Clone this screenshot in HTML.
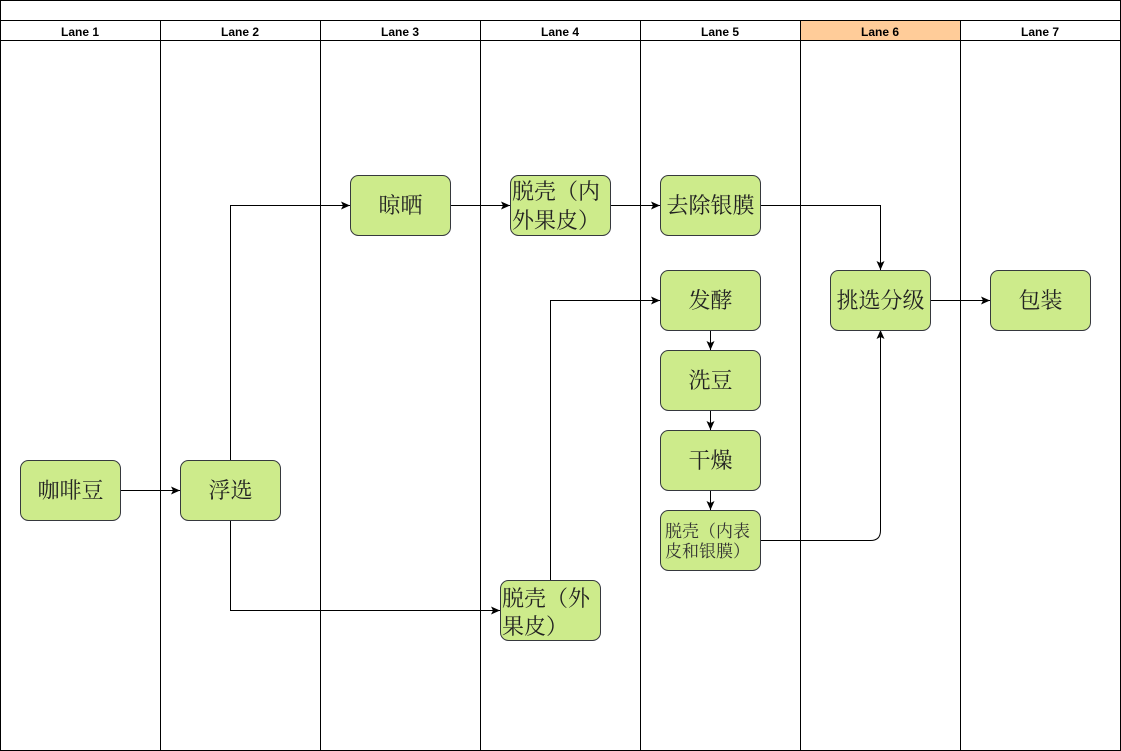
<!DOCTYPE html>
<html><head><meta charset="utf-8"><style>
html,body{margin:0;padding:0;background:#fff;}
svg{display:block;}
text{font-family:"Liberation Sans","Noto Sans CJK SC",sans-serif;}
.c{font-family:"Liberation Serif","Noto Serif CJK SC",serif;}
</style></head><body>
<svg width="1121" height="751" viewBox="0 0 1121 751" xmlns="http://www.w3.org/2000/svg">
<defs><marker id="a" markerWidth="10" markerHeight="10" refX="9" refY="5" orient="auto" markerUnits="userSpaceOnUse"><path d="M0,1 L9,5 L0,9 L2,5 z" fill="#000"/></marker></defs>
<rect x="0.5" y="0.5" width="1120" height="750" fill="#fff" stroke="#000"/>
<rect x="800.5" y="20.5" width="160" height="20" fill="#ffcc99"/>
<line x1="0" y1="20.5" x2="1121" y2="20.5" stroke="#000"/>
<line x1="0" y1="40.5" x2="1121" y2="40.5" stroke="#000"/>
<g stroke="#000">
<line x1="160.5" y1="20" x2="160.5" y2="751"/><line x1="320.5" y1="20" x2="320.5" y2="751"/>
<line x1="480.5" y1="20" x2="480.5" y2="751"/><line x1="640.5" y1="20" x2="640.5" y2="751"/>
<line x1="800.5" y1="20" x2="800.5" y2="751"/><line x1="960.5" y1="20" x2="960.5" y2="751"/>
</g>
<g font-size="12" font-weight="bold" text-anchor="middle">
<text x="80" y="36">Lane 1</text><text x="240" y="36">Lane 2</text><text x="400" y="36">Lane 3</text>
<text x="560" y="36">Lane 4</text><text x="720" y="36">Lane 5</text><text x="880" y="36">Lane 6</text><text x="1040" y="36">Lane 7</text>
</g>
<g fill="none" stroke="#000" marker-end="url(#a)">
<path d="M120.5,490.5 H180"/>
<path d="M230.5,460 V205.5 H350"/>
<path d="M230.5,520 V610.5 H500"/>
<path d="M450,205.5 H510"/>
<path d="M610,205.5 H660"/>
<path d="M760,205.5 H880.5 V270"/>
<path d="M550.5,580 V300.5 H660"/>
<path d="M710.5,330 V350"/>
<path d="M710.5,410 V430"/>
<path d="M710.5,490 V510"/>
<path d="M760,540.5 H870.5 Q880.5,540.5 880.5,530.5 V330"/>
<path d="M930,300.5 H990"/>
</g>
<g fill="#cdeb8b" stroke="#36393d">
<rect x="20.5" y="460.5" width="100" height="60" rx="8"/>
<rect x="180.5" y="460.5" width="100" height="60" rx="8"/>
<rect x="350.5" y="175.5" width="100" height="60" rx="8"/>
<rect x="510.5" y="175.5" width="100" height="60" rx="8"/>
<rect x="660.5" y="175.5" width="100" height="60" rx="8"/>
<rect x="660.5" y="270.5" width="100" height="60" rx="8"/>
<rect x="660.5" y="350.5" width="100" height="60" rx="8"/>
<rect x="660.5" y="430.5" width="100" height="60" rx="8"/>
<rect x="660.5" y="510.5" width="100" height="60" rx="8"/>
<rect x="830.5" y="270.5" width="100" height="60" rx="8"/>
<rect x="990.5" y="270.5" width="100" height="60" rx="8"/>
<rect x="500.5" y="580.5" width="100" height="60" rx="8"/>
</g>
<g class="c" font-size="22" text-anchor="middle" fill="#222">
<text class="c" x="70.5" y="498">咖啡豆</text>
<text class="c" x="230.5" y="498">浮选</text>
<text class="c" x="400.5" y="213">晾晒</text>
<text class="c" x="710.5" y="213">去除银膜</text>
<text class="c" x="710.5" y="308">发酵</text>
<text class="c" x="710.5" y="388">洗豆</text>
<text class="c" x="710.5" y="468">干燥</text>
<text class="c" x="880.5" y="308">挑选分级</text>
<text class="c" x="1040.5" y="308">包装</text>
</g>
<g font-size="22" fill="#222">
<text class="c" x="512" y="199">脱壳（内</text><text class="c" x="512" y="228">外果皮）</text>
<text class="c" x="502" y="606">脱壳（外</text><text class="c" x="502" y="634">果皮）</text>
</g>
<g font-size="17" fill="#333">
<text class="c" x="665" y="537">脱壳（内表</text><text class="c" x="665" y="557">皮和银膜）</text>
</g>
</svg>
</body></html>
